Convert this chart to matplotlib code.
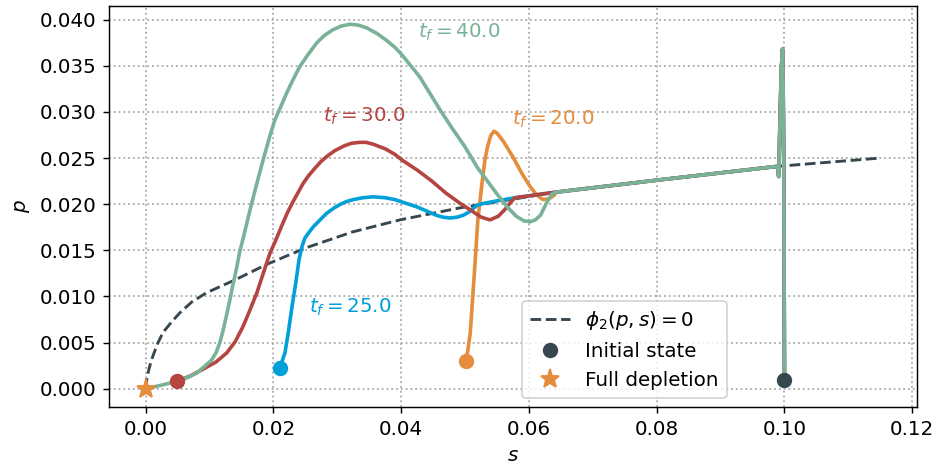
import matplotlib
matplotlib.use("Agg")
import matplotlib.pyplot as plt
import numpy as np

# phi_2(p, s) = 0 curve
phi_s = [0.0, 0.0002, 0.0006, 0.0011, 0.0018, 0.0027, 0.0040, 0.0053, 0.0072, 0.0095, 0.0143,
         0.0190, 0.0252, 0.0324, 0.0398, 0.0492, 0.0642, 0.0800, 0.0989, 0.1150]
phi_p = [0.0, 0.0012, 0.0024, 0.0035, 0.0048, 0.0061, 0.0072, 0.0082, 0.0094, 0.0104, 0.0119,
         0.0135, 0.0153, 0.0170, 0.0183, 0.0196, 0.0213, 0.0226, 0.0241, 0.0250]

# shared part of every trajectory, from the initial state to the junction
trunk_s = [0.1000, 0.0999, 0.0998, 0.0997, 0.0995, 0.0993, 0.0991, 0.0989, 0.0800, 0.0642]
trunk_p = [0.0010, 0.0240, 0.0320, 0.0368, 0.0345, 0.0290, 0.0230, 0.0241, 0.0226, 0.0213]

# branches, junction -> end point
s_40 = [0.0636, 0.0628, 0.0618, 0.0610, 0.0602, 0.0592, 0.0580, 0.0566, 0.0550, 0.0535,
        0.0519, 0.0500, 0.0480, 0.0461, 0.0445, 0.0429, 0.0415, 0.0401, 0.0390, 0.0378,
        0.0362, 0.0346, 0.0333, 0.0320, 0.0306, 0.0293, 0.0280, 0.0268, 0.0255, 0.0241,
        0.0230, 0.0221, 0.0211, 0.0202, 0.0194, 0.0183, 0.0173, 0.0163, 0.0155, 0.0147,
        0.0142, 0.0136, 0.0131, 0.0126, 0.0121, 0.0116, 0.0110, 0.0103, 0.0090, 0.0080,
        0.0065, 0.0049, 0.0025, 0.0]
p_40 = [0.0211, 0.0202, 0.0188, 0.0183, 0.0181, 0.0182, 0.0187, 0.0197, 0.0211, 0.0225,
        0.0240, 0.0262, 0.0282, 0.0302, 0.0320, 0.0338, 0.0350, 0.0362, 0.0370, 0.0377,
        0.0385, 0.0391, 0.0394, 0.0395, 0.0393, 0.0389, 0.0383, 0.0375, 0.0363, 0.0349,
        0.0334, 0.0321, 0.0305, 0.0291, 0.0273, 0.0246, 0.0220, 0.0193, 0.0170, 0.0148,
        0.0130, 0.0111, 0.0094, 0.0078, 0.0063, 0.0050, 0.0039, 0.0031, 0.0023, 0.0017,
        0.0012, 0.0008, 0.0004, 0.0]

s_30 = [0.0620, 0.0600, 0.0578, 0.0570, 0.0562, 0.0552, 0.0539, 0.0525, 0.0510, 0.0492,
        0.0470, 0.0448, 0.0425, 0.0403, 0.0390, 0.0375, 0.0356, 0.0345, 0.0335, 0.0322,
        0.0310, 0.0296, 0.0284, 0.0274, 0.0265, 0.0255, 0.0246, 0.0238, 0.0230, 0.0222,
        0.0215, 0.0203, 0.0194, 0.0184, 0.0174, 0.0163, 0.0152, 0.0140, 0.0127, 0.0110,
        0.0089, 0.0070, 0.0049]
p_30 = [0.0211, 0.0209, 0.0207, 0.0201, 0.0194, 0.0187, 0.0183, 0.0186, 0.0193, 0.0201,
        0.0212, 0.0225, 0.0237, 0.0247, 0.0254, 0.0260, 0.0265, 0.0267, 0.0267, 0.0266,
        0.0263, 0.0258, 0.0252, 0.0246, 0.0239, 0.0231, 0.0222, 0.0212, 0.0202, 0.0191,
        0.0180, 0.0160, 0.0146, 0.0125, 0.0104, 0.0085, 0.0067, 0.0051, 0.0039, 0.0029,
        0.0021, 0.0014, 0.0008]

s_25 = [0.0610, 0.0578, 0.0545, 0.0530, 0.0519, 0.0512, 0.0505, 0.0497, 0.0488, 0.0476,
        0.0465, 0.0455, 0.0445, 0.0425, 0.0403, 0.0390, 0.0375, 0.0356, 0.0340, 0.0325,
        0.0315, 0.0305, 0.0295, 0.0283, 0.0273, 0.0263, 0.0255, 0.0249, 0.0245, 0.0240,
        0.0235, 0.0229, 0.0223, 0.0218, 0.0210]
p_25 = [0.0210, 0.0207, 0.0203, 0.0201, 0.0199, 0.0195, 0.0191, 0.0188, 0.0186, 0.0185,
        0.0186, 0.0188, 0.0191, 0.0197, 0.0202, 0.0205, 0.0207, 0.0208, 0.0207, 0.0205,
        0.0203, 0.0200, 0.0196, 0.0190, 0.0183, 0.0176, 0.0169, 0.0163, 0.0155, 0.0140,
        0.0115, 0.0089, 0.0060, 0.0039, 0.0023]

s_20 = [0.0640, 0.0632, 0.0622, 0.0612, 0.0602, 0.0590, 0.0575, 0.0560, 0.0550, 0.0545,
        0.0540, 0.0535, 0.0531, 0.0526, 0.0520, 0.0514, 0.0508, 0.0504, 0.0501]
p_20 = [0.0210, 0.0206, 0.0205, 0.0210, 0.0219, 0.0232, 0.0251, 0.0268, 0.0277, 0.0279,
        0.0274, 0.0262, 0.0248, 0.0220, 0.0183, 0.0120, 0.0060, 0.0040, 0.0030]

runs = [("20.0", s_20, p_20, "#e58c3d", (0.0573, 0.0292)),
        ("25.0", s_25, p_25, "#02a0d9", (0.0255, 0.0088)),
        ("30.0", s_30, p_30, "#b54541", (0.0277, 0.0295)),
        ("40.0", s_40, p_40, "#7ab298", (0.0426, 0.0386))]

dark = "#37474f"

plt.rcParams["font.size"] = 11

fig = plt.figure(figsize=(939 / 130, 472 / 130), dpi=130)
ax = fig.add_axes([109 / 939, 1 - 407 / 472, 808 / 939, 401 / 472])

ax.plot(phi_s, phi_p, "--", color=dark, lw=1.6, label=r"$\phi_2(p, s) = 0$", zorder=2)

for tf, s_b, p_b, c, pos in runs:
    s = np.concatenate([trunk_s, s_b])
    p = np.concatenate([trunk_p, p_b])
    ax.plot(s, p, color=c, lw=2, zorder=3)
    if tf != "40.0":
        ax.plot(s_b[-1], p_b[-1], "o", color=c, ms=7.5, zorder=4)
    ax.text(pos[0], pos[1], r"$t_f = %s$" % tf, color=c, fontsize=11, ha="left", va="center")

ax.plot(trunk_s[0], trunk_p[0], "o", color=dark, ms=7.5, zorder=5, label="Initial state")
ax.plot(0.0, 0.0, "*", color="#e58c3d", ms=11, zorder=5, label="Full depletion")

ax.grid(True, linestyle=":", color="#aaaaaa", lw=1)
ax.set_axisbelow(True)
ax.set_xlabel(r"$s$")
ax.set_ylabel(r"$p$")
ax.legend(loc="lower left", bbox_to_anchor=(0.511, 0.022), borderaxespad=0)

fig.savefig("out.png", dpi=130)
